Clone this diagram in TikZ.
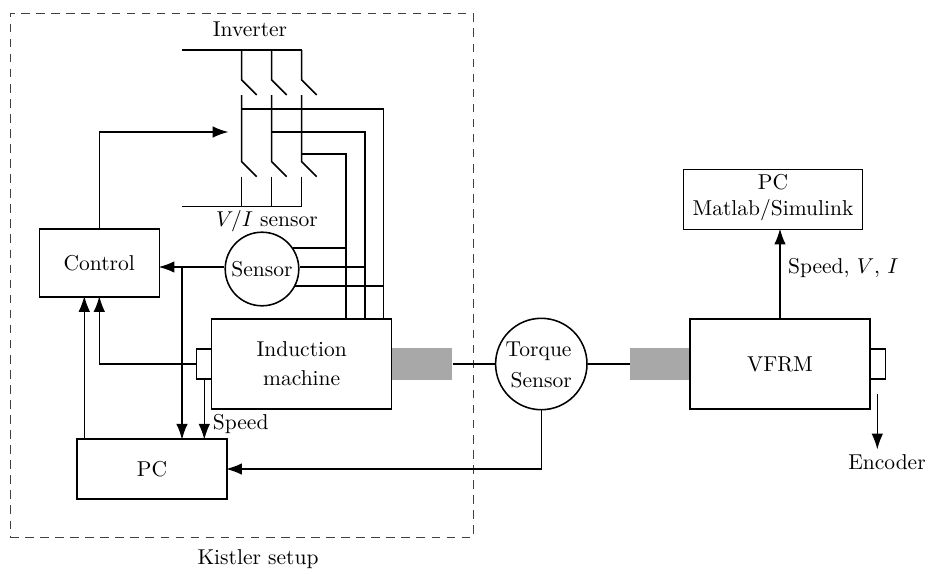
\documentclass[tikz,border=0pt]{standalone}
\usetikzlibrary{arrows.meta}
\tikzset{
  wire/.style={line width=0.72pt},
  thinwire/.style={line width=0.5pt},
  arr/.style={wire,shorten >=-0.7pt,-{Latex[length=7.4pt,width=5.4pt]}},
  thinarr/.style={thinwire,shorten >=-0.7pt,-{Latex[length=7.4pt,width=5.4pt]}},
  blockbox/.style={draw,line width=0.72pt,rectangle,inner sep=0pt,align=center},
  ring/.style={draw,line width=0.72pt,circle,inner sep=0pt,align=center},
  shaft/.style={fill=black!34,draw=none,rectangle,inner sep=0pt},
  frame/.style={draw=black!75,line width=0.4pt,dash pattern=on 4pt off 3pt,rectangle,inner sep=0pt},
  lbl/.style={inner sep=0pt}
}
\begin{document}
\begin{tikzpicture}[x=0.465pt,y=-0.465pt]
\useasboundingbox (0,0) rectangle (929,573);
% frame
\node[frame,minimum width=463*0.465pt,minimum height=524*0.465pt] (kistler) at (241.5,275.5) {};
\node[lbl] (kistlerlabel) at (258,559) {Kistler setup};
% shafts
\node[shaft,minimum width=60.5*0.465pt,minimum height=32*0.465pt] (shaftA) at (422,364) {};
\node[shaft,minimum width=60*0.465pt,minimum height=32*0.465pt] (shaftB) at (660,364) {};
% blocks
\node[blockbox,minimum width=120*0.465pt,minimum height=67.5*0.465pt] (control) at (99.3,263) {Control};
\node[blockbox,minimum width=149.5*0.465pt,minimum height=60*0.465pt] (pc) at (152,469) {PC};
\node[blockbox,minimum width=180*0.465pt,minimum height=90*0.465pt] (im) at (301.7,364) {Induction\\[1.5pt]machine};
\node[blockbox,minimum width=15*0.465pt,minimum height=30*0.465pt] (encA) at (204.2,364) {};
\node[blockbox,minimum width=180*0.465pt,minimum height=89.5*0.465pt] (vfrm) at (780,364) {VFRM};
\node[blockbox,minimum width=15.3*0.465pt,minimum height=30.3*0.465pt] (encB) at (877.7,364) {};
\node[blockbox,minimum width=179.4*0.465pt,minimum height=60*0.465pt,anchor=center] (pctop) at (773,199.3) {};
\node[lbl,align=center] (pctoptext) at (773,197.5) {PC\\Matlab/Simulink};
\node[ring,minimum size=73.6*0.465pt] (sensor) at (262,269) {Sensor};
\node[ring,minimum size=91.4*0.465pt] (torque) at (541.3,364) {};
\node[lbl,align=center] (torquetext) at (541.3,365) {Torque\hspace*{2.5pt}\\[2pt]Sensor};
% labels
\node[lbl] (invlabel) at (250,29) {Inverter};
\node[lbl] (vilabel) at (267,221) {$V/I$ sensor};
\node[lbl,anchor=west] (speedlabel) at (212.5,424) {Speed};
\node[lbl,anchor=west] (vfrmlabel) at (787.7,268) {Speed, $V$, $I$};
\node[lbl] (enclabel) at (887,462) {Encoder};
% inverter coordinates
\coordinate (busTL) at (182,50);
\coordinate (busTR) at (301.7,50);
\coordinate (busBL) at (182,206.7);
\coordinate (busBR) at (301.7,206.7);
\foreach \n/\x in {a/241.7,b/271.7,c/301.7}{
  \coordinate (\n T) at (\x,50);
  \coordinate (\n H) at (\x,80);
  \coordinate (\n S) at ({\x+15},95);
  \coordinate (\n M) at (\x,95);
  \coordinate (\n L) at (\x,161.7);
  \coordinate (\n R) at ({\x+15},176.7);
  \coordinate (\n N) at (\x,176.7);
  \coordinate (\n B) at (\x,206.7);
  \draw[wire,line join=miter] (\n T) -- (\n H) -- (\n S);
  \draw[wire] (\n M) -- (\n L) -- (\n R);
  \draw[wire] (\n N) -- (\n B);
}
\draw[wire] (busTL) -- (busTR);
\draw[wire] (busBL) -- (busBR);
% phase lines
\coordinate (pa) at (383.7,109);
\coordinate (pb) at (365,132);
\coordinate (pc1) at (346,154);
\coordinate (pa0) at (241.7,109);
\coordinate (pb0) at (271.7,132);
\coordinate (pc0) at (301.7,154);
\draw[wire] (pa0) -- (pa) -- (pa |- im.north);
\draw[wire] (pb0) -- (pb) -- (pb |- im.north);
\draw[wire] (pc0) -- (pc1) -- (pc1 |- im.north);
% sensor taps
\draw[wire] (sensor.34.5) -- (sensor.34.5 -| pc1);
\draw[wire] (sensor.east |- 0,267) -- (pb |- 0,267);
\draw[wire] (sensor.-27.4) -- (sensor.-27.4 -| pa);
% control paths
\coordinate (invin) at (227,132);
\draw[arr] (control.north) -- (control.north |- invin) -- (invin);
\coordinate (sensrow) at (182,267);
\draw[arr] (sensor.west |- sensrow) -- (control.east |- sensrow);
\draw[arr] (sensrow) -- (sensrow |- pc.north);
\draw[arr] (encA.west) -- (encA.west -| control.south) -- (control.south);
\coordinate (encAdown) at (204.3,379);
\draw[arr] (encAdown) -- (encAdown |- pc.north);
\coordinate (pcup) at (84.3,439);
\draw[thinarr] (pcup) -- (pcup |- control.south);
\draw[arr] (torque.south) -- (torque.south |- pc.east) -- (pc.east);
% shaft lines
\draw[wire] (shaftA.east) -- (torque.west);
\draw[wire] (torque.east) -- (shaftB.west);
% right side
\draw[arr] (vfrm.north) -- (pctop.south -| vfrm.north);
\coordinate (encBstart) at (877.3,394);
\coordinate (encBend) at (877.3,448);
\draw[arr] (encBstart) -- (encBend);
\end{tikzpicture}
\end{document}
